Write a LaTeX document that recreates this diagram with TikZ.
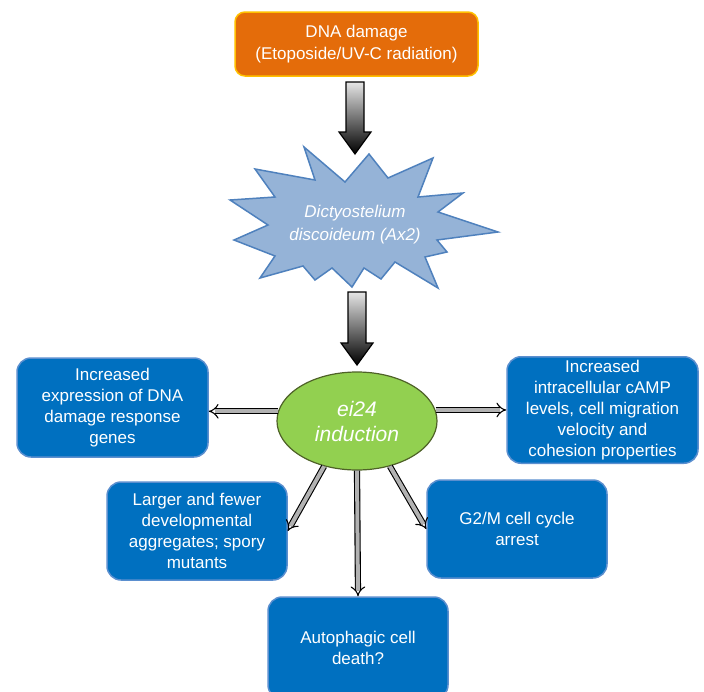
\documentclass[tikz,border=0pt]{standalone}
\usepackage{fontspec}
\setmainfont{Liberation Sans}
\usetikzlibrary{shapes.geometric,arrows.meta,calc}
\definecolor{dmgorange}{HTML}{E46C0A}
\definecolor{dmgedge}{HTML}{FFC000}
\definecolor{starfill}{HTML}{95B3D7}
\definecolor{staredge}{HTML}{4F81BD}
\definecolor{eifill}{HTML}{92D050}
\definecolor{eiedge}{HTML}{4F6228}
\definecolor{boxblue}{HTML}{0070C0}
\definecolor{boxedge}{HTML}{5B8FCF}
% block arrow, shaded light to dark
\newcommand\bigarrow[2]{%
\shade[draw=black,line width=1.2pt,top color=gray!20,bottom color=black]
($(#1)+(-9,0)$)--($(#2)+(-9,-22)$)--($(#2)+(-16,-22)$)--(#2)
--($(#2)+(16,-22)$)--($(#2)+(9,-22)$)--($(#1)+(9,0)$)--cycle;}
\begin{document}
\begin{tikzpicture}[x=1pt,y=-1pt,
 bluebox/.style={draw=boxedge,line width=1.5pt,fill=boxblue,rounded corners=14pt,text=white,align=center,minimum width=180pt,minimum height=98pt,font=\fontsize{17}{21}\selectfont},
 thinarrow/.style={draw=black,double=gray!60,double distance=4pt,line width=1.1pt,-{Implies}}]
\useasboundingbox (0,0) rectangle (704,691);
\clip (0,0) rectangle (704,691);
\node[draw=dmgedge,line width=1.5pt,fill=dmgorange,rounded corners=10pt,text=white,align=center,minimum width=243pt,minimum height=64pt,font=\fontsize{17}{22}\selectfont](dna) at (356.5,44){DNA damage\\(Etoposide/UV-C radiation)};
\draw[draw=staredge,line width=1.5pt,fill=starfill,line join=miter](304,147)--(315,180)--(255,169)--(275,197)--(230,200)--(268,225)--(234,240)--(275,256)--(260,278)--(303,266)--(315,280)--(332,268)--(352,287)--(364,268)--(381,279)--(395,262)--(438,288)--(425,257)--(447,252)--(437,240)--(498,232)--(438,212)--(463,193)--(418,197)--(433,158)--(388,178)--(369,154)--(345,182)--cycle;
\node[text=white,align=center,font=\fontsize{17}{23}\selectfont\itshape](dicty) at (355,225){Dictyostelium\\discoideum (Ax2)};
\node[ellipse,draw=eiedge,line width=1.2pt,fill=eifill,minimum width=160pt,minimum height=98pt,text=white,align=center,font=\fontsize{21}{25}\selectfont\itshape](ei) at (357,421){ei24\\induction};
\coordinate(a1) at (355,82);
\coordinate(a1tip) at (355,154);
\coordinate(a2) at (357,292);
\coordinate(a2tip) at (357,365);
\bigarrow{a1}{a1tip}
\bigarrow{a2}{a2tip}
\node[bluebox,minimum width=191pt,minimum height=99pt](genes) at (112.5,407.5){Increased\\expression of DNA\\damage response\\genes};
\node[bluebox,minimum width=191pt,minimum height=106pt](camp) at (602.5,410){Increased\\intracellular cAMP\\levels, cell migration\\velocity and\\cohesion properties};
\node[bluebox](aggr) at (197,531){Larger and fewer\\developmental\\aggregates; spory\\mutants};
\node[bluebox](g2m) at (517,529){G2/M cell cycle\\arrest};
\node[bluebox,minimum height=102pt](auto) at (358,648){Autophagic cell\\death?};
\draw[thinarrow](ei.173)--(genes.east |- ei.173);
\draw[thinarrow](ei.8)--(camp.west |- ei.8);
\draw[thinarrow](ei.234)--(aggr.east);
\draw[thinarrow](ei.306)--(g2m.west);
\draw[thinarrow](ei.south)--(auto.north);
\end{tikzpicture}
\end{document}
